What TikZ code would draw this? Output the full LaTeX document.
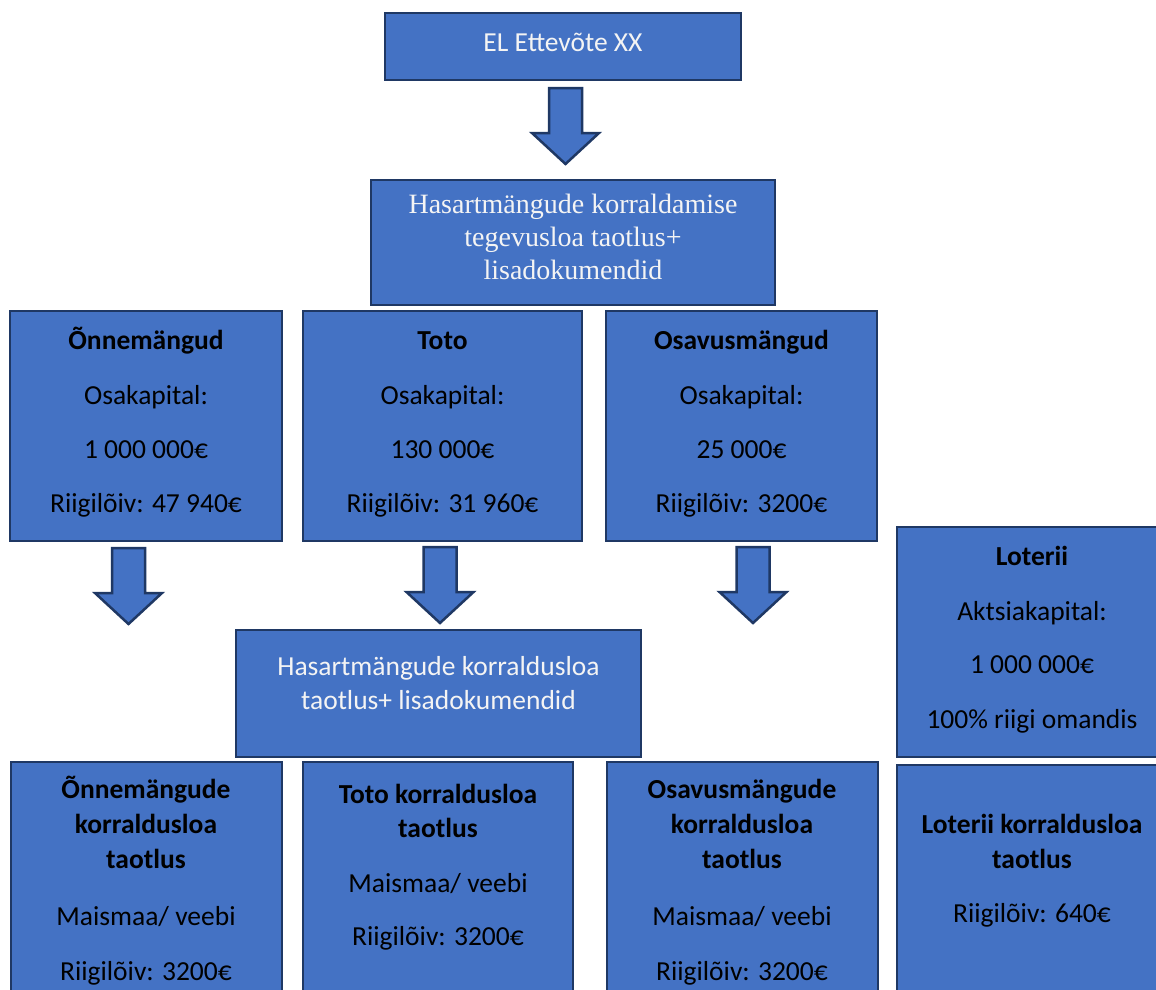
\documentclass[tikz,border=0pt]{standalone}
\usepackage{fontspec}
\setmainfont{Carlito}
\newfontfamily\seriffam{Liberation Serif}
\definecolor{boxfill}{HTML}{4472C4}
\definecolor{boxline}{HTML}{1F3864}
\definecolor{wtext}{HTML}{F4F4F4}
\tikzset{
  box/.style={draw=boxline, fill=boxfill, line width=2.5pt, rectangle, inner sep=0pt, outer sep=0pt, anchor=north west},
  wt/.style={text=wtext, font=\fontsize{27.5}{34}\selectfont, anchor=base, inner sep=0pt},
  st/.style={text=wtext, font=\seriffam\fontsize{28}{34}\selectfont, anchor=base, inner sep=0pt},
  bt/.style={text=black, font=\fontsize{27.5}{34}\selectfont, anchor=base, inner sep=0pt},
  bbt/.style={text=black, font=\bfseries\fontsize{27.5}{34}\selectfont, anchor=base, inner sep=0pt},
  blk/.style={draw=boxline, fill=boxfill, line width=2.5pt, line join=miter},
}
\newcommand\blockdown[1]{%
  \draw[blk] (#1) ++(-16.5,0) -- ++(0,45) -- ++(-17,0) -- ++(33.5,31) -- ++(33.5,-31) -- ++(-17,0) -- ++(0,-45) -- cycle;}
\begin{document}
\begin{tikzpicture}[x=1pt,y=-1pt]
\useasboundingbox (0,0) rectangle (1156,990);
\clip (0,0) rectangle (1156,990);
\fill[white] (0,0) rectangle (1156,990);

% boxes
\node[box, minimum width=356, minimum height=67] (top) at (385,13) {};
\node[box, minimum width=404, minimum height=125] (hk) at (371,180) {};
\node[box, minimum width=272, minimum height=230] (onn) at (10,311) {};
\node[box, minimum width=279, minimum height=230] (toto) at (303,311) {};
\node[box, minimum width=271, minimum height=230] (osa) at (606,311) {};
\node[box, minimum width=271, minimum height=230] (lot) at (897,527) {};
\node[box, minimum width=405, minimum height=127] (mid) at (236,630) {};
\node[box, minimum width=271, minimum height=250] (bonn) at (11,762) {};
\node[box, minimum width=270, minimum height=250] (btoto) at (303,762) {};
\node[box, minimum width=271, minimum height=250] (bosa) at (607,762) {};
\node[box, minimum width=271, minimum height=250] (blot) at (897,765) {};

% block arrows
\coordinate (a1) at (565.5,88);
\coordinate (a2) at (128.5,548);
\coordinate (a3) at (440,547);
\coordinate (a4) at (753,547);
\blockdown{a1}
\blockdown{a2}
\blockdown{a3}
\blockdown{a4}

% texts
\node[wt] (ttop) at (563,52) {EL Ettevõte XX};

\node[st] (thk1) at (573,213) {Hasartmängude korraldamise};
\node[st] (thk2) at (573,246) {tegevusloa taotlus+};
\node[st] (thk3) at (573,279) {lisadokumendid};

\node[bbt] (to1) at (146,349) {Õnnemängud};
\node[bt] (to2) at (146,404) {Osakapital:};
\node[bt] (to3) at (146,458) {1 000 000€};
\node[bt] (to4) at (146,512) {Riigilõiv: 47 940€};

\node[bbt] (tt1) at (442.5,349) {Toto};
\node[bt] (tt2) at (442.5,404) {Osakapital:};
\node[bt] (tt3) at (442.5,458) {130 000€};
\node[bt] (tt4) at (442.5,512) {Riigilõiv: 31 960€};

\node[bbt] (ts1) at (741.5,349) {Osavusmängud};
\node[bt] (ts2) at (741.5,404) {Osakapital:};
\node[bt] (ts3) at (741.5,458) {25 000€};
\node[bt] (ts4) at (741.5,512) {Riigilõiv: 3200€};

\node[bbt] (tl1) at (1032,565) {Loterii};
\node[bt] (tl2) at (1032,620) {Aktsiakapital:};
\node[bt] (tl3) at (1032,673) {1 000 000€};
\node[bt] (tl4) at (1032,728) {100\% riigi omandis};

\node[wt] (tm1) at (438.5,675) {Hasartmängude korraldusloa};
\node[wt] (tm2) at (438.5,709) {taotlus+ lisadokumendid};

\node[bbt] (tbo1) at (146,798) {Õnnemängude};
\node[bbt] (tbo2) at (146,833) {korraldusloa};
\node[bbt] (tbo3) at (146,868) {taotlus};
\node[bt] (tbo4) at (146,925) {Maismaa/ veebi};
\node[bt] (tbo5) at (146,980) {Riigilõiv: 3200€};

\node[bbt] (tbt1) at (438,803) {Toto korraldusloa};
\node[bbt] (tbt2) at (438,837) {taotlus};
\node[bt] (tbt3) at (438,892) {Maismaa/ veebi};
\node[bt] (tbt4) at (438,945) {Riigilõiv: 3200€};

\node[bbt] (tbs1) at (742,798) {Osavusmängude};
\node[bbt] (tbs2) at (742,833) {korraldusloa};
\node[bbt] (tbs3) at (742,868) {taotlus};
\node[bt] (tbs4) at (742,925) {Maismaa/ veebi};
\node[bt] (tbs5) at (742,980) {Riigilõiv: 3200€};

\node[bbt] (tbl1) at (1032,833) {Loterii korraldusloa};
\node[bbt] (tbl2) at (1032,868) {taotlus};
\node[bt] (tbl3) at (1032,922) {Riigilõiv: 640€};
\end{tikzpicture}
\end{document}
